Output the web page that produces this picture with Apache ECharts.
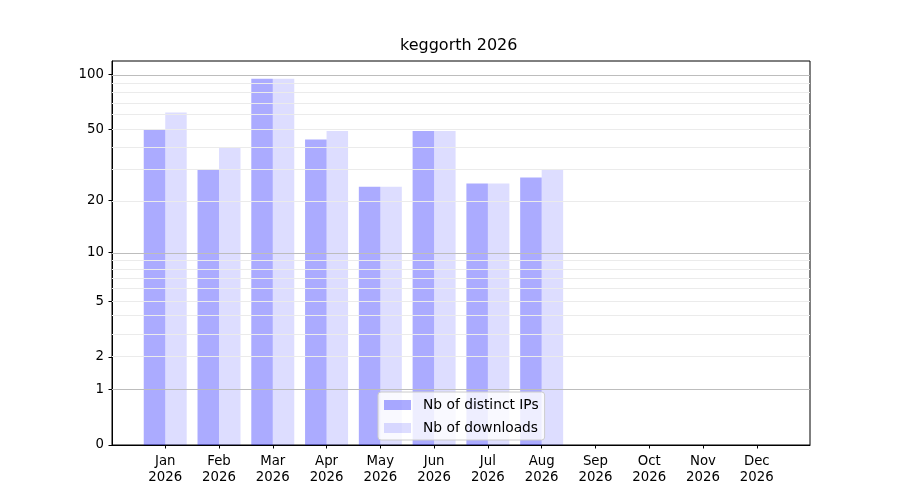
<!DOCTYPE html>
<html lang="en">
<head>
    <meta charset="UTF-8">
    <script src="https://cdn.jsdelivr.net/npm/echarts@6/dist/echarts.min.js"></script>
    <title>keggorth 2026</title>
    <style>
        body { margin: 0; background: #fff; }
    </style>
</head>
<body>
    <div id="main" style="width: 900px;height:500px;"></div>
    <script type="text/javascript">
      // data
      var months = ['Jan', 'Feb', 'Mar', 'Apr', 'May', 'Jun', 'Jul', 'Aug', 'Sep', 'Oct', 'Nov', 'Dec'];
      var year = '2026';
      var distinctIPs = [50, 30, 95, 44, 24, 49, 25, 27, 0, 0, 0, 0];
      var downloads = [62, 40, 95, 49, 24, 49, 25, 30, 0, 0, 0, 0];
      var yTicks = [0, 1, 2, 5, 10, 20, 50, 100];
      var majorGrid = [1, 10, 100];
      var minorGrid = [2, 3, 4, 5, 6, 7, 8, 9, 20, 30, 40, 50, 60, 70, 80, 90];
      var yTop = 118.7;

      // y is drawn as log10(1 + v)
      function tr(v) { return Math.log10(1 + v); }
      function untr(t) { return Math.round(Math.pow(10, t) - 1); }

      var font = 'DejaVu Sans';
      var myChart = echarts.init(document.getElementById('main'));

      var gridLines = [];
      majorGrid.forEach(function (v) {
        gridLines.push({ yAxis: tr(v), lineStyle: { color: '#bdbdbd', width: 1, type: 'solid' } });
      });
      minorGrid.forEach(function (v) {
        gridLines.push({ yAxis: tr(v), lineStyle: { color: '#ebebeb', width: 1, type: 'solid' } });
      });

      var option = {
        animation: false,
        title: {
          text: 'keggorth ' + year,
          left: 400,
          top: 38,
          padding: 0,
          textStyle: { fontFamily: font, fontSize: 16, fontWeight: 'normal', color: '#000' }
        },
        legend: {
          orient: 'vertical',
          left: 378,
          top: 392,
          padding: [6, 6, 5, 6],
          itemWidth: 27,
          itemHeight: 10,
          itemGap: 9,
          icon: 'rect',
          backgroundColor: 'rgba(255,255,255,0.8)',
          borderColor: '#cccccc',
          borderWidth: 1,
          borderRadius: 3,
          textStyle: { fontFamily: font, fontSize: 13.8, color: '#000', padding: [0, 0, 0, 7] },
          data: ['Nb of distinct IPs', 'Nb of downloads']
        },
        grid: {
          left: 112, right: 90, top: 61, bottom: 55,
          show: true, borderColor: '#000', borderWidth: 1, backgroundColor: 'transparent'
        },
        xAxis: {
          type: 'value',
          min: -0.99,
          max: 11.99,
          splitLine: { show: false },
          axisLine: { onZero: false, lineStyle: { color: '#000' } },
          axisTick: { customValues: months.map(function (m, i) { return i; }), length: 3.5, lineStyle: { color: '#000' } },
          axisLabel: {
            customValues: months.map(function (m, i) { return i; }),
            formatter: function (v) { return months[v] + '\n' + year; },
            fontFamily: font, fontSize: 13.3, color: '#000', lineHeight: 16, margin: 9
          }
        },
        yAxis: {
          type: 'value',
          min: 0,
          max: tr(yTop),
          splitLine: { show: false },
          axisLine: { show: true, onZero: false, lineStyle: { color: '#000' } },
          axisTick: { show: true, customValues: yTicks.map(tr), length: 3.5, lineStyle: { color: '#000' } },
          axisLabel: {
            customValues: yTicks.map(tr),
            formatter: function (t) { return String(untr(t)); },
            fontFamily: font, fontSize: 13.3, color: '#000', margin: 8,
            padding: [3, 0, 0, 0]
          }
        },
        series: [
          {
            name: 'grid',
            type: 'line',
            data: [],
            silent: true,
            z: 1,
            markLine: { silent: true, symbol: 'none', label: { show: false }, data: gridLines }
          },
          {
            name: 'Nb of distinct IPs',
            type: 'bar',
            z: 2,
            barWidth: 21.5,
            barGap: '0%',
            itemStyle: { color: 'rgba(0,0,255,0.33)' },
            data: distinctIPs.map(function (v, i) { return [i, tr(v)]; })
          },
          {
            name: 'Nb of downloads',
            type: 'bar',
            z: 2,
            barWidth: 21.5,
            barGap: '0%',
            itemStyle: { color: 'rgba(0,0,255,0.133)' },
            data: downloads.map(function (v, i) { return [i, tr(v)]; })
          }
        ]
      };

      myChart.setOption(option);
    </script>
</body>
</html>
